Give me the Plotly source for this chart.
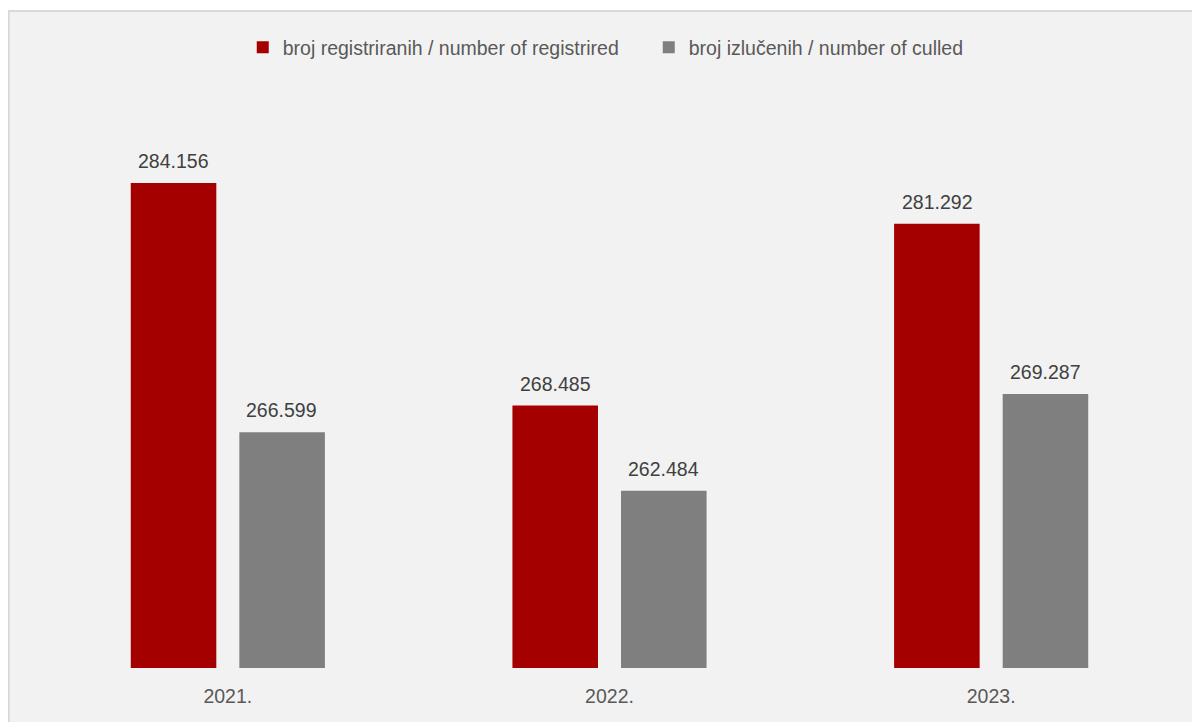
import plotly.graph_objects as go

categories = ["2021.", "2022.", "2023."]
registered = [284156, 268485, 281292]
culled = [266599, 262484, 269287]
series_names = ["broj registriranih / number of registrired", "broj izlučenih / number of culled"]

RED = "#a50000"
GRAY = "#7f7f7f"
FONT = "Liberation Sans Narrow, Arial Narrow, Liberation Sans, Arial, sans-serif"
FS = 19.5

def fmt(v):
    return f"{v:,}".replace(",", ".")

idx = list(range(len(categories)))

fig = go.Figure()
fig.add_trace(go.Bar(x=idx, y=registered, name=series_names[0],
                     marker=dict(color=RED, line=dict(width=0))))
fig.add_trace(go.Bar(x=idx, y=culled, name=series_names[1],
                     marker=dict(color=GRAY, line=dict(width=0))))

annotations = []
for i, r, c in zip(idx, registered, culled):
    for val, shift in ((r, -54), (c, 54)):
        annotations.append(dict(x=i, y=val, xref="x", yref="y", text=fmt(val),
                                showarrow=False, xshift=shift, yshift=9,
                                yanchor="bottom", xanchor="center",
                                font=dict(family=FONT, size=FS, color="#404040")))

# page has an 8px body margin: figure coordinates are offset accordingly
fig.update_layout(
    width=1192, height=714,
    margin=dict(l=29.25, r=17.75, t=91.5, b=54, autoexpand=False),
    paper_bgcolor="white",
    plot_bgcolor="rgba(0,0,0,0)",
    barmode="group", bargap=0.431, bargroupgap=0.212,
    font=dict(family=FONT, size=FS, color="#595959"),
    legend=dict(orientation="h", x=0.1797, xanchor="left", y=1.0923, yanchor="middle",
                font=dict(family=FONT, size=FS, color="#595959"),
                entrywidth=361, entrywidthmode="pixels",
                bgcolor="rgba(0,0,0,0)", itemsizing="constant"),
    xaxis=dict(range=[-0.5, 2.5], tickmode="array", tickvals=idx, ticktext=categories,
               showgrid=False, showline=False, zeroline=False,
               ticks="outside", ticklen=11, tickcolor="rgba(0,0,0,0)",
               tickfont=dict(family=FONT, size=FS, color="#595959")),
    yaxis=dict(range=[250000, 290000], visible=False, showgrid=False, zeroline=False),
    annotations=annotations,
    shapes=[dict(type="rect", xref="paper", yref="paper",
                 x0=-0.02467, x1=1.03, y0=-0.12, y1=1.1566,
                 fillcolor="#f2f2f2", line=dict(color="#d9d9d9", width=2),
                 layer="below")],
)

fig.write_html("out.html")
